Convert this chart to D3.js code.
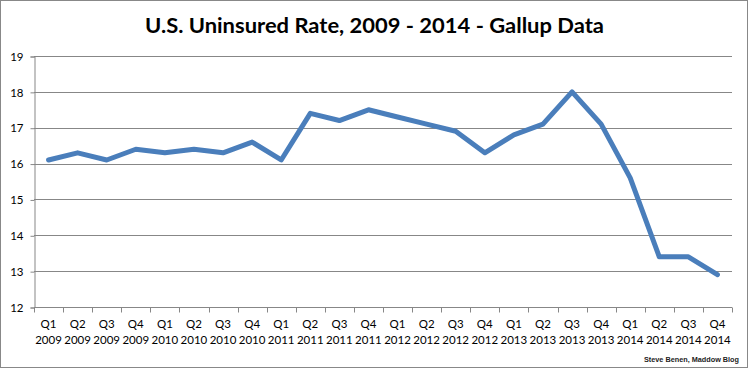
<!DOCTYPE html>
<html>
<head>
<meta charset="utf-8">
<script src="https://cdn.jsdelivr.net/npm/d3@7"></script>
<style>
  body { margin: 0; background: #fff; }
  svg { display: block; }
</style>
</head>
<body>
<div id="chart"></div>
<script>
// quarters on the x axis
const quarters = ["Q1","Q2","Q3","Q4","Q1","Q2","Q3","Q4","Q1","Q2","Q3","Q4",
                  "Q1","Q2","Q3","Q4","Q1","Q2","Q3","Q4","Q1","Q2","Q3","Q4"]
const years = ["2009","2009","2009","2009","2010","2010","2010","2010",
               "2011","2011","2011","2011","2012","2012","2012","2012",
               "2013","2013","2013","2013","2014","2014","2014","2014"]
// uninsured rate, %
const rates = [16.1, 16.3, 16.1, 16.4, 16.3, 16.4, 16.3, 16.6,
               16.1, 17.4, 17.2, 17.5, 17.3, 17.1, 16.9, 16.3,
               16.8, 17.1, 18.0, 17.1, 15.6, 13.4, 13.4, 12.9]
const yTicks = [12, 13, 14, 15, 16, 17, 18, 19]

const width = 749, height = 368
const margin = {top: 56, right: 17, bottom: 61, left: 34}
const font = "Lato, 'Open Sans', sans-serif"

const svg = d3.select("#chart").append("svg")
  .attr("width", width)
  .attr("height", height)

// outer frame
svg.append("rect")
  .attr("x", 0.5).attr("y", 0.5)
  .attr("width", width - 2).attr("height", height - 1)
  .attr("fill", "#fff")
  .attr("stroke", "#888")

svg.append("text")
  .attr("x", 145)
  .attr("y", 33)
  .attr("font-family", font)
  .attr("font-weight", "bold")
  .attr("font-size", 21)
  .attr("fill", "#000")
  .attr("textLength", 459)
  .attr("lengthAdjust", "spacingAndGlyphs")
  .text("U.S. Uninsured Rate, 2009 - 2014 - Gallup Data")

const idx = d3.range(rates.length)
const x = d3.scaleBand()
  .domain(idx)
  .range([margin.left, width - margin.right])

const y = d3.scaleLinear()
  .domain([12, 19])
  .range([height - margin.bottom, margin.top])

// gridlines
svg.append("g")
  .selectAll("line")
  .data(yTicks)
  .join("line")
  .attr("x1", margin.left)
  .attr("x2", width - margin.right)
  .attr("y1", d => Math.round(y(d)) + 0.5)
  .attr("y2", d => Math.round(y(d)) + 0.5)
  .attr("stroke", "#878787")

// y axis
const yAxis = svg.append("g")
  .attr("transform", `translate(${margin.left + 0.5},0.5)`)
  .call(d3.axisLeft(y).tickValues(yTicks).tickSize(4).tickPadding(7).tickFormat(d3.format("d")))
yAxis.select(".domain").attr("stroke", "#878787")
yAxis.selectAll(".tick line").attr("stroke", "#878787")
yAxis.selectAll("text")
  .attr("font-family", font)
  .attr("font-size", 11.5)
  .attr("fill", "#000")

// x axis ticks at band boundaries
const xBase = Math.round(y(12)) + 0.5
svg.append("g")
  .selectAll("line")
  .data(d3.range(rates.length + 1))
  .join("line")
  .attr("x1", d => Math.round(margin.left + d * x.step()) + 0.5)
  .attr("x2", d => Math.round(margin.left + d * x.step()) + 0.5)
  .attr("y1", xBase)
  .attr("y2", xBase + 5)
  .attr("stroke", "#878787")

const labels = svg.append("g")
  .attr("font-family", font)
  .attr("font-size", 11.5)
  .attr("fill", "#000")
  .attr("text-anchor", "middle")
labels.selectAll("text.q")
  .data(idx)
  .join("text")
  .attr("class", "q")
  .attr("x", d => x(d) + x.bandwidth() / 2)
  .attr("y", 328)
  .text(d => quarters[d])
labels.selectAll("text.yr")
  .data(idx)
  .join("text")
  .attr("class", "yr")
  .attr("x", d => x(d) + x.bandwidth() / 2)
  .attr("y", 344)
  .text(d => years[d])

// the line
const line = d3.line()
  .x((d, i) => x(i) + x.bandwidth() / 2)
  .y(d => y(d))
svg.append("path")
  .datum(rates)
  .attr("d", line)
  .attr("fill", "none")
  .attr("stroke", "#4a7ebb")
  .attr("stroke-width", 5)
  .attr("stroke-linejoin", "round")
  .attr("stroke-linecap", "round")

svg.append("text")
  .attr("x", 739)
  .attr("y", 362)
  .attr("text-anchor", "end")
  .attr("font-family", "'Liberation Sans', Arial, sans-serif")
  .attr("font-size", 8)
  .attr("font-weight", "bold")
  .attr("fill", "#222")
  .attr("textLength", 95)
  .attr("lengthAdjust", "spacingAndGlyphs")
  .text("Steve Benen, Maddow Blog")
</script>
</body>
</html>
